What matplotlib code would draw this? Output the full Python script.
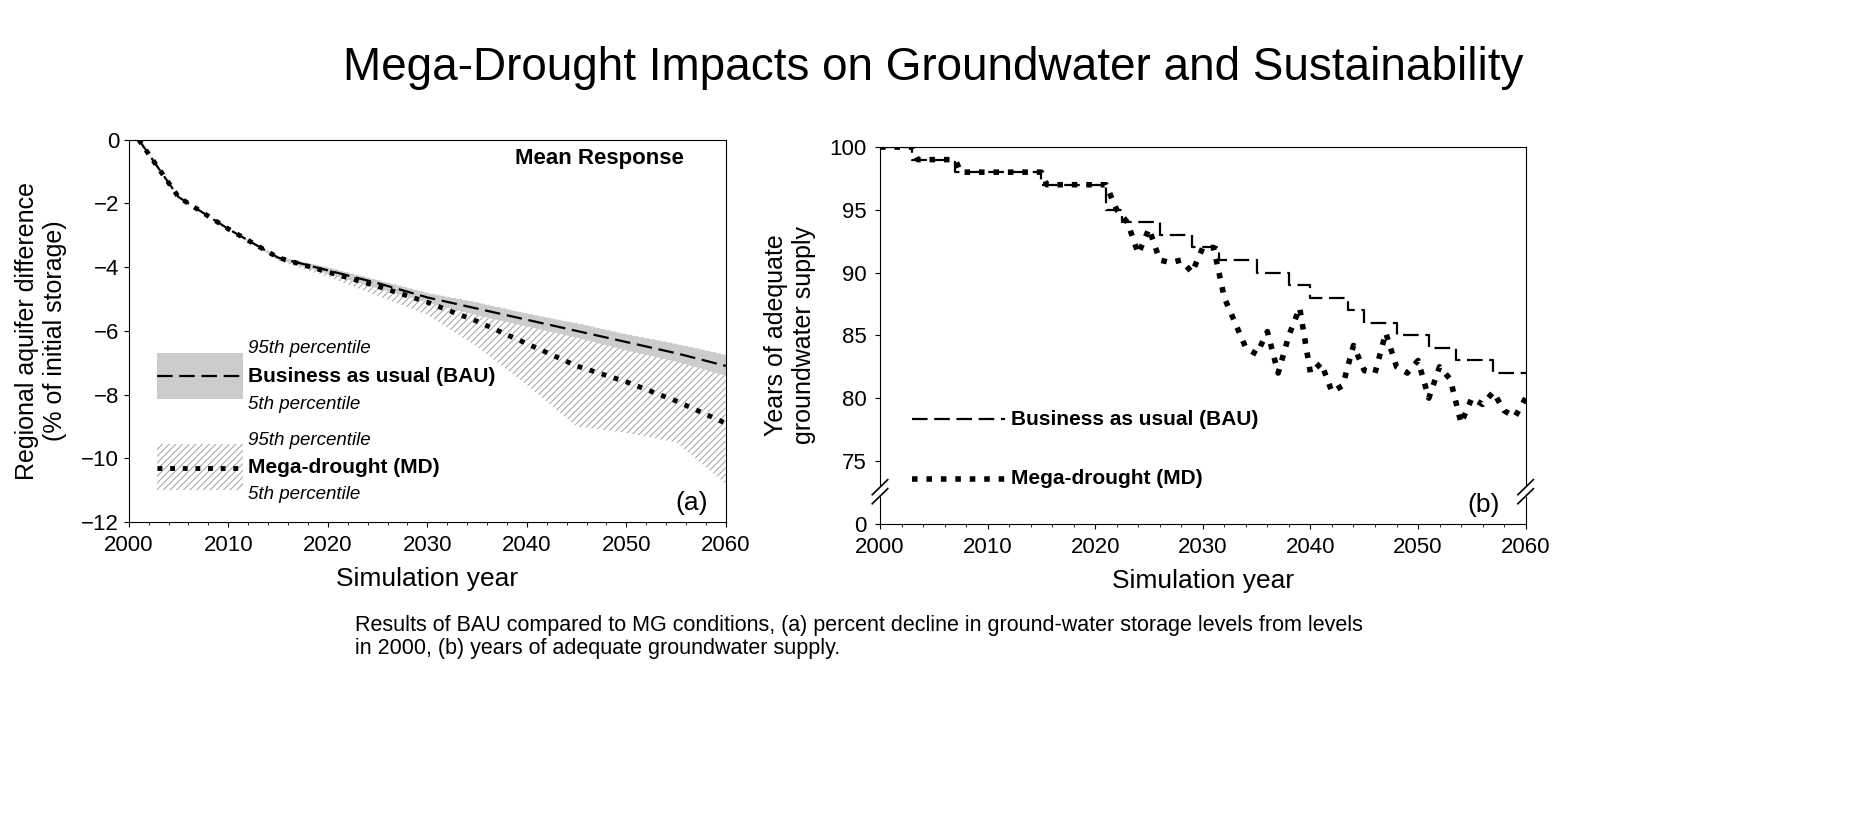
import matplotlib
matplotlib.use("Agg")
import matplotlib.pyplot as plt
from matplotlib.patches import Rectangle
import numpy as np

plt.rcParams['font.family'] = ['Liberation Sans Narrow', 'Liberation Sans', 'DejaVu Sans']
plt.rcParams['hatch.color'] = '#aaaaaa'
plt.rcParams['hatch.linewidth'] = 0.8

# Panel (a) data
yrs_a = [2001, 2005, 2010, 2015, 2020, 2025, 2030, 2035, 2040, 2045, 2050, 2055, 2060]
bau_mean = [0, -1.8, -2.8, -3.7, -4.1, -4.5, -4.95, -5.3, -5.65, -6.0, -6.35, -6.7, -7.1]
bau_hi = [0, -1.8, -2.8, -3.65, -4.0, -4.4, -4.8, -5.1, -5.45, -5.75, -6.1, -6.4, -6.75]
bau_lo = [0, -1.8, -2.8, -3.75, -4.2, -4.65, -5.1, -5.5, -5.85, -6.2, -6.6, -6.95, -7.4]
md_mean = [0, -1.8, -2.8, -3.7, -4.15, -4.6, -5.1, -5.7, -6.4, -7.1, -7.6, -8.2, -8.9]
md_hi = [0, -1.8, -2.8, -3.7, -4.0, -4.4, -4.8, -5.1, -5.45, -5.75, -6.1, -6.4, -6.75]
md_lo = [0, -1.8, -2.8, -3.8, -4.3, -4.9, -5.5, -6.5, -7.7, -9.0, -9.2, -9.5, -10.8]

# Panel (b) data
bau_step_yrs = [2000, 2003, 2007, 2015, 2021, 2022.5, 2026, 2029, 2031.5, 2035, 2038, 2040,
                2043.5, 2045, 2048, 2051, 2053.5, 2057, 2060]
bau_step_vals = [100, 99, 98, 97, 95, 94, 93, 92, 91, 90, 89, 88, 87, 86, 85, 84, 83, 82, 82]
md_yrs = [2000, 2003, 2003.5, 2007, 2007.5, 2015, 2015.5, 2021, 2022] + list(range(2023, 2061))
md_vals = [100, 100, 99, 99, 98, 98, 97, 97, 95,
           94, 91.5, 93.5, 91, 90.8, 91, 90, 92, 92, 88, 86, 84, 83.5, 85.3, 82, 85, 87.2,
           82, 82.8, 80.5, 81, 84.2, 82.2, 82, 85.2, 82.5, 82, 83, 80, 82.5, 81.5, 78, 80,
           79.5, 80.5, 79, 78.5, 80]

fig = plt.figure(figsize=(18.66, 8.17), dpi=100)
fig.text(0.5, 0.917, "Mega-Drought Impacts on Groundwater and Sustainability",
         ha='center', va='center', fontsize=33)
fig.text(0.19, 0.22, "Results of BAU compared to MG conditions, (a) percent decline in ground-water storage levels from levels\nin 2000, (b) years of adequate groundwater supply.",
         ha='left', va='center', fontsize=15.5, linespacing=1.1)

DOT = (0, (1, 1.6))

# ---- Panel (a)
ax = fig.add_axes([0.069, 0.361, 0.32, 0.468])
ax.fill_between(yrs_a, md_hi, md_lo, facecolor='none', edgecolor='#aaaaaa', hatch='/////', linewidth=0)
ax.fill_between(yrs_a, bau_hi, bau_lo, color='#cccccc', linewidth=0)
ax.plot(yrs_a, bau_mean, color='black', ls=(0, (7, 3)), lw=1.6)
ax.plot(yrs_a, md_mean, color='black', ls=DOT, lw=3.5)
ax.set_xlim(2000, 2060)
ax.set_ylim(-12, 0)
ax.set_xticks(range(2000, 2061, 10))
ax.set_xticks(range(2000, 2061, 2), minor=True)
ax.set_yticks(range(-12, 1, 2))
ax.tick_params(labelsize=16)
ax.tick_params(axis='x', pad=6)
ax.set_xlabel("Simulation year", fontsize=19, labelpad=8)
ax.set_ylabel("Regional aquifer difference\n(% of initial storage)", fontsize=18, labelpad=10)
ax.text(0.93, 0.95, "Mean Response", transform=ax.transAxes, ha='right', va='center', fontsize=16, fontweight='bold')
ax.text(0.97, 0.05, "(a)", transform=ax.transAxes, ha='right', va='center', fontsize=19)
ax.add_patch(Rectangle((2002.8, -8.15), 8.7, 1.45, color='#cccccc', lw=0))
ax.plot([2002.8, 2011.5], [-7.43, -7.43], color='black', ls=(0, (7, 3)), lw=1.6)
ax.add_patch(Rectangle((2002.8, -11.0), 8.7, 1.45, facecolor='none', edgecolor='#aaaaaa', hatch='/////', lw=0))
ax.plot([2002.8, 2011.5], [-10.3, -10.3], color='black', ls=DOT, lw=3.5)
for y, t, st, wt in [(-6.55, "95th percentile", 'italic', 'normal'), (-7.43, "Business as usual (BAU)", 'normal', 'bold'),
                     (-8.3, "5th percentile", 'italic', 'normal'), (-9.45, "95th percentile", 'italic', 'normal'),
                     (-10.3, "Mega-drought (MD)", 'normal', 'bold'), (-11.15, "5th percentile", 'italic', 'normal')]:
    ax.text(2012, y, t, fontsize=15 if wt == 'bold' else 13.5, style=st, fontweight=wt, va='center')

# ---- Panel (b)
bx = fig.add_axes([0.4716, 0.359, 0.346, 0.461])
bx.step(bau_step_yrs, bau_step_vals, where='post', color='black', ls=(0, (7, 3)), lw=1.6)
bx.plot(md_yrs, md_vals, color='black', ls=DOT, lw=4)
bx.set_xlim(2000, 2060)
bx.set_ylim(70, 100)
bx.set_xticks(range(2000, 2061, 10))
bx.set_xticks(range(2000, 2061, 2), minor=True)
bx.set_yticks([70, 75, 80, 85, 90, 95, 100])
bx.set_yticklabels(['0', '75', '80', '85', '90', '95', '100'])
bx.tick_params(labelsize=16)
bx.tick_params(axis='x', pad=6)
bx.tick_params(axis='y', pad=6)
bx.set_xlabel("Simulation year", fontsize=19, labelpad=8)
bx.set_ylabel("Years of adequate\ngroundwater supply", fontsize=18, labelpad=10)
bx.text(0.96, 0.05, "(b)", transform=bx.transAxes, ha='right', va='center', fontsize=19)
bx.plot([2003, 2011.6], [78.3, 78.3], color='black', ls=(0, (7, 3)), lw=1.6)
bx.text(2012.2, 78.3, "Business as usual (BAU)", fontsize=15, fontweight='bold', va='center')
bx.plot([2003, 2011.6], [73.6, 73.6], color='black', ls=DOT, lw=4)
bx.text(2012.2, 73.6, "Mega-drought (MD)", fontsize=15, fontweight='bold', va='center')
for xa in (0, 1):
    bx.plot([xa, xa], [0.075, 0.095], transform=bx.transAxes, color='white', lw=3, clip_on=False, zorder=5)
    for dy in (-0.012, 0.012):
        bx.plot([xa - 0.012, xa + 0.012], [0.085 + dy - 0.02, 0.085 + dy + 0.02],
                transform=bx.transAxes, color='black', lw=1.2, clip_on=False, zorder=6)

fig.savefig("out.png", dpi=100)
